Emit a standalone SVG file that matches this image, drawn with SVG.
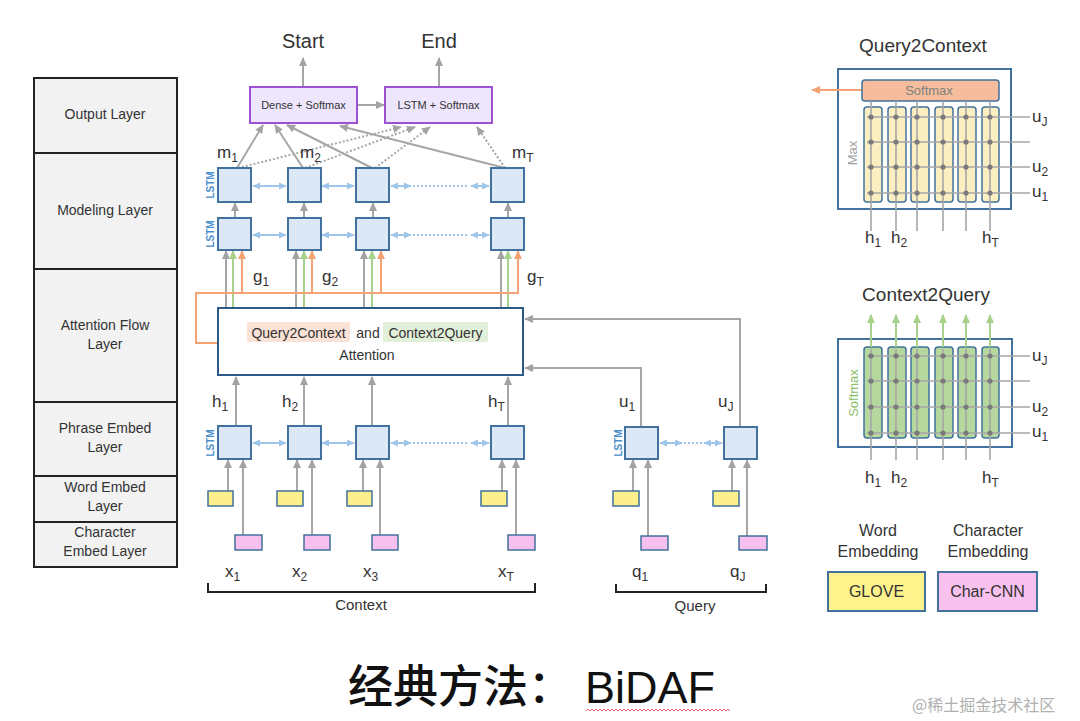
<svg xmlns="http://www.w3.org/2000/svg" width="1080" height="721" viewBox="0 0 1080 721">
<defs>
<marker id="ag" viewBox="0 0 10 10" refX="9" refY="5" markerWidth="9" markerHeight="9" markerUnits="userSpaceOnUse" orient="auto-start-reverse"><path d="M0,0.5 L10,5 L0,9.5z" fill="#a3a3a3"/></marker>
<marker id="ab" viewBox="0 0 10 10" refX="9" refY="5" markerWidth="8" markerHeight="8" markerUnits="userSpaceOnUse" orient="auto-start-reverse"><path d="M0,0.5 L10,5 L0,9.5z" fill="#9fc5e8"/></marker>
<marker id="ao" viewBox="0 0 10 10" refX="9" refY="5" markerWidth="9" markerHeight="9" markerUnits="userSpaceOnUse" orient="auto-start-reverse"><path d="M0,0.5 L10,5 L0,9.5z" fill="#f4a474"/></marker>
<marker id="agr" viewBox="0 0 10 10" refX="9" refY="5" markerWidth="9" markerHeight="9" markerUnits="userSpaceOnUse" orient="auto-start-reverse"><path d="M0,0.5 L10,5 L0,9.5z" fill="#a9d18e"/></marker>
</defs>
<style>
.t{font-family:"Liberation Sans",Arial,sans-serif;fill:#333}
.lb{font-family:"Liberation Sans",Arial,sans-serif;fill:#333;font-size:17px}
.sub{font-size:12px}
.lay{fill:#f2f2f2;stroke:#222;stroke-width:2}
.lstm{fill:#dce8f5;stroke:#41719c;stroke-width:2}
.yl{fill:#fdf08c;stroke:#41719c;stroke-width:1.5}
.pk{fill:#f7c0ee;stroke:#41719c;stroke-width:1.5}
.out{fill:#ede6fd;stroke:#9b51d0;stroke-width:2}
.g{stroke:#a6a6a6;stroke-width:2;fill:none}
.ga{stroke:#a6a6a6;stroke-width:2;fill:none;marker-end:url(#ag)}
.gd{stroke:#a6a6a6;stroke-width:2;fill:none;stroke-dasharray:2 2;marker-end:url(#ag)}
.ba{stroke:#9fc5e8;stroke-width:2;fill:none;marker-start:url(#ab);marker-end:url(#ab)}
.bd{stroke:#9fc5e8;stroke-width:2;fill:none;stroke-dasharray:2 2}
.oa{stroke:#f4a474;stroke-width:2;fill:none;marker-end:url(#ao)}
.o{stroke:#f4a474;stroke-width:2;fill:none}
.gr{stroke:#a9d18e;stroke-width:2;fill:none;marker-end:url(#agr)}
.vl{font-family:"Liberation Sans",Arial,sans-serif;font-size:10px;font-weight:bold;fill:#4a8fcc}
.pan{fill:#fff;stroke:#41719c;stroke-width:2}
.pl{stroke:#a6a6a6;stroke-width:1.6;fill:none}
.dot{fill:#7a7a7a}
</style>
<rect width="1080" height="721" fill="#fff"/>

<g id="layers">
<rect class="lay" x="34" y="78" width="143" height="75"/>
<rect class="lay" x="34" y="153" width="143" height="116"/>
<rect class="lay" x="34" y="269" width="143" height="133"/>
<rect class="lay" x="34" y="402" width="143" height="74"/>
<rect class="lay" x="34" y="476" width="143" height="46"/>
<rect class="lay" x="34" y="522" width="143" height="45"/>
<g class="t" font-size="14" text-anchor="middle">
<text x="105" y="119">Output  Layer</text>
<text x="105" y="215">Modeling  Layer</text>
<text x="105" y="330">Attention  Flow</text>
<text x="105" y="349">Layer</text>
<text x="105" y="433">Phrase Embed</text>
<text x="105" y="452">Layer</text>
<text x="105" y="492">Word Embed</text>
<text x="105" y="511">Layer</text>
<text x="105" y="537">Character</text>
<text x="105" y="556">Embed Layer</text>
</g>
</g>

<g id="connectors">
<line class="ga" x1="303" y1="87" x2="303" y2="58"/>
<line class="ga" x1="439" y1="87" x2="439" y2="58"/>
<line class="ga" x1="357" y1="105" x2="384" y2="105"/>
<line class="ga" x1="237" y1="168" x2="263" y2="125"/>
<line class="ga" x1="303" y1="168" x2="275" y2="125"/>
<line class="ga" x1="372" y1="168" x2="287" y2="125"/>
<line class="ga" x1="505" y1="168" x2="340" y2="126"/>
<line class="gd" x1="238" y1="168" x2="401" y2="127"/>
<line class="gd" x1="305" y1="168" x2="415" y2="127"/>
<line class="gd" x1="375" y1="168" x2="430" y2="127"/>
<line class="gd" x1="505" y1="168" x2="477" y2="127"/>
<line class="ga" x1="235" y1="218" x2="235" y2="203"/>
<line class="ga" x1="304" y1="218" x2="304" y2="203"/>
<line class="ga" x1="373" y1="218" x2="373" y2="203"/>
<line class="ga" x1="508" y1="218" x2="508" y2="203"/>
<line class="ba" x1="253" y1="186" x2="286" y2="186"/>
<line class="ba" x1="322" y1="186" x2="354" y2="186"/>
<line class="ba" x1="391" y1="186" x2="411" y2="186"/>
<line class="bd" x1="413" y1="186" x2="469" y2="186"/>
<line class="ba" x1="471" y1="186" x2="489" y2="186"/>
<line class="ba" x1="253" y1="235" x2="286" y2="235"/>
<line class="ba" x1="322" y1="235" x2="354" y2="235"/>
<line class="ba" x1="391" y1="235" x2="411" y2="235"/>
<line class="bd" x1="413" y1="235" x2="469" y2="235"/>
<line class="ba" x1="471" y1="235" x2="489" y2="235"/>
<line class="ba" x1="253" y1="443" x2="286" y2="443"/>
<line class="ba" x1="322" y1="443" x2="354" y2="443"/>
<line class="ba" x1="391" y1="443" x2="411" y2="443"/>
<line class="bd" x1="413" y1="443" x2="469" y2="443"/>
<line class="ba" x1="471" y1="443" x2="489" y2="443"/>
<line class="ba" x1="660" y1="443" x2="682" y2="443"/>
<line class="bd" x1="684" y1="443" x2="702" y2="443"/>
<line class="ba" x1="704" y1="443" x2="722" y2="443"/>
<line class="ga" x1="226" y1="308" x2="226" y2="251"/>
<line class="ga" x1="296" y1="308" x2="296" y2="251"/>
<line class="ga" x1="364" y1="308" x2="364" y2="251"/>
<line class="ga" x1="501" y1="308" x2="501" y2="251"/>
<line class="gr" x1="233" y1="308" x2="233" y2="251"/>
<line class="gr" x1="304" y1="308" x2="304" y2="251"/>
<line class="gr" x1="372" y1="308" x2="372" y2="251"/>
<line class="gr" x1="508" y1="308" x2="508" y2="251"/>
<polyline class="o" points="218,343 196,343 196,293 518,293"/>
<line class="oa" x1="242" y1="293" x2="242" y2="251"/>
<line class="oa" x1="312" y1="293" x2="312" y2="251"/>
<line class="oa" x1="381" y1="293" x2="381" y2="251"/>
<line class="oa" x1="518" y1="294" x2="518" y2="251"/>
<line class="ga" x1="236" y1="426" x2="236" y2="377"/>
<line class="ga" x1="304" y1="426" x2="304" y2="377"/>
<line class="ga" x1="372" y1="426" x2="372" y2="377"/>
<line class="ga" x1="508" y1="426" x2="508" y2="377"/>
<polyline class="ga" points="641,427 641,368 525,368"/>
<polyline class="ga" points="740,427 740,319 525,319"/>
<line class="ga" x1="228" y1="491" x2="228" y2="460"/>
<line class="ga" x1="243" y1="535" x2="243" y2="460"/>
<line class="ga" x1="297" y1="491" x2="297" y2="460"/>
<line class="ga" x1="312" y1="535" x2="312" y2="460"/>
<line class="ga" x1="363" y1="491" x2="363" y2="460"/>
<line class="ga" x1="380" y1="535" x2="380" y2="460"/>
<line class="ga" x1="502" y1="491" x2="502" y2="460"/>
<line class="ga" x1="516" y1="535" x2="516" y2="460"/>
<line class="ga" x1="633" y1="491" x2="633" y2="460"/>
<line class="ga" x1="648" y1="536" x2="648" y2="460"/>
<line class="ga" x1="732" y1="491" x2="732" y2="460"/>
<line class="ga" x1="747" y1="536" x2="747" y2="460"/>
</g>

<g id="output-layer">
<rect class="out" x="250" y="87" width="107" height="36"/>
<text class="t" x="303.5" y="109" font-size="11" text-anchor="middle">Dense  + Softmax</text>
<rect class="out" x="385" y="87" width="107" height="36"/>
<text class="t" x="438.5" y="109" font-size="11" text-anchor="middle">LSTM + Softmax</text>
<text class="t" x="303" y="48" font-size="20" text-anchor="middle">Start</text>
<text class="t" x="439" y="48" font-size="20" text-anchor="middle">End</text>
</g>

<g id="modeling-layer">
<rect class="lstm" x="218" y="168" width="33" height="34"/>
<rect class="lstm" x="288" y="168" width="33" height="34"/>
<rect class="lstm" x="356" y="168" width="33" height="34"/>
<rect class="lstm" x="491" y="168" width="33" height="34"/>
<rect class="lstm" x="218" y="218" width="33" height="32"/>
<rect class="lstm" x="288" y="218" width="33" height="32"/>
<rect class="lstm" x="356" y="218" width="33" height="32"/>
<rect class="lstm" x="491" y="218" width="33" height="32"/>
<text class="vl" transform="translate(214,185) rotate(-90)" text-anchor="middle">LSTM</text>
<text class="vl" transform="translate(214,234) rotate(-90)" text-anchor="middle">LSTM</text>
<text class="lb" x="217" y="158">m<tspan class="sub" dy="4">1</tspan></text>
<text class="lb" x="300" y="158">m<tspan class="sub" dy="4">2</tspan></text>
<text class="lb" x="512" y="158">m<tspan class="sub" dy="4">T</tspan></text>
<text class="lb" x="253" y="282">g<tspan class="sub" dy="4">1</tspan></text>
<text class="lb" x="322" y="282">g<tspan class="sub" dy="4">2</tspan></text>
<text class="lb" x="527" y="282">g<tspan class="sub" dy="4">T</tspan></text>
</g>

<g id="attention-layer">
<rect x="218" y="308" width="305" height="67" fill="#fff" stroke="#2b5a86" stroke-width="2"/>
<rect x="247" y="322" width="103" height="20" fill="#fbe2d6"/>
<rect x="383" y="322" width="105" height="20" fill="#e2efd9"/>
<text class="t" x="298.5" y="338" font-size="14" text-anchor="middle">Query2Context</text>
<text class="t" x="368" y="338" font-size="14" text-anchor="middle">and</text>
<text class="t" x="435.5" y="338" font-size="14" text-anchor="middle">Context2Query</text>
<text class="t" x="367" y="360" font-size="14" text-anchor="middle">Attention</text>
</g>

<g id="phrase-layer">
<rect class="lstm" x="218" y="426" width="33" height="33"/>
<rect class="lstm" x="288" y="426" width="33" height="33"/>
<rect class="lstm" x="356" y="426" width="33" height="33"/>
<rect class="lstm" x="491" y="426" width="33" height="33"/>
<rect class="lstm" x="625" y="427" width="33" height="32"/>
<rect class="lstm" x="724" y="427" width="33" height="32"/>
<text class="vl" transform="translate(214,443) rotate(-90)" text-anchor="middle">LSTM</text>
<text class="vl" transform="translate(622,443) rotate(-90)" text-anchor="middle">LSTM</text>
<text class="lb" x="212" y="407">h<tspan class="sub" dy="4">1</tspan></text>
<text class="lb" x="282" y="407">h<tspan class="sub" dy="4">2</tspan></text>
<text class="lb" x="488" y="407">h<tspan class="sub" dy="4">T</tspan></text>
<text class="lb" x="619" y="407">u<tspan class="sub" dy="4">1</tspan></text>
<text class="lb" x="718" y="407">u<tspan class="sub" dy="4">J</tspan></text>
</g>

<g id="embed-layer">
<rect class="yl" x="208" y="491" width="25" height="15"/>
<rect class="yl" x="277" y="491" width="26" height="15"/>
<rect class="yl" x="347" y="491" width="25" height="15"/>
<rect class="yl" x="481" y="491" width="26" height="15"/>
<rect class="yl" x="613" y="491" width="26" height="15"/>
<rect class="yl" x="713" y="491" width="26" height="15"/>
<rect class="pk" x="235" y="535" width="27" height="15"/>
<rect class="pk" x="304" y="535" width="26" height="15"/>
<rect class="pk" x="372" y="535" width="26" height="15"/>
<rect class="pk" x="508" y="535" width="27" height="15"/>
<rect class="pk" x="641" y="536" width="27" height="14"/>
<rect class="pk" x="739" y="536" width="28" height="14"/>
</g>

<g id="inputs">
<text class="lb" x="225" y="577">x<tspan class="sub" dy="4">1</tspan></text>
<text class="lb" x="292" y="577">x<tspan class="sub" dy="4">2</tspan></text>
<text class="lb" x="363" y="577">x<tspan class="sub" dy="4">3</tspan></text>
<text class="lb" x="498" y="577">x<tspan class="sub" dy="4">T</tspan></text>
<text class="lb" x="632" y="577">q<tspan class="sub" dy="4">1</tspan></text>
<text class="lb" x="730" y="577">q<tspan class="sub" dy="4">J</tspan></text>
<polyline points="208,583 208,592 535,592 535,583" fill="none" stroke="#222" stroke-width="2"/>
<polyline points="616,584 616,592 766,592 766,584" fill="none" stroke="#222" stroke-width="2"/>
<text class="t" x="361" y="610" font-size="15" text-anchor="middle">Context</text>
<text class="t" x="695" y="611" font-size="15" text-anchor="middle">Query</text>
</g>

<g id="query2context">
<text class="t" x="923" y="52" font-size="19" text-anchor="middle">Query2Context</text>
<rect class="pan" x="838" y="69" width="173" height="140"/>
<line class="oa" x1="862" y1="90" x2="812" y2="90"/>
<rect x="862" y="80" width="137" height="21" rx="3" fill="#f6bd9c" stroke="#41719c" stroke-width="1.5"/>
<text x="929" y="95" font-family="Liberation Sans, Arial, sans-serif" font-size="13" fill="#808080" text-anchor="middle">Softmax</text>
<g fill="#fbefc2" stroke="#41719c" stroke-width="1.5">
<rect x="864" y="107" width="18" height="95" rx="3"/>
<rect x="888" y="107" width="18" height="95" rx="3"/>
<rect x="911" y="107" width="18" height="95" rx="3"/>
<rect x="935" y="107" width="18" height="95" rx="3"/>
<rect x="958" y="107" width="18" height="95" rx="3"/>
<rect x="982" y="107" width="17" height="95" rx="3"/>
</g>
<g class="pl">
<line x1="871" y1="101" x2="871" y2="231"/>
<line x1="896" y1="101" x2="896" y2="231"/>
<line x1="917" y1="101" x2="917" y2="231"/>
<line x1="943" y1="101" x2="943" y2="231"/>
<line x1="966" y1="101" x2="966" y2="231"/>
<line x1="990" y1="101" x2="990" y2="231"/>
<line x1="867" y1="117" x2="1030" y2="117"/>
<line x1="867" y1="142" x2="1030" y2="142"/>
<line x1="867" y1="167" x2="1030" y2="167"/>
<line x1="867" y1="193" x2="1030" y2="193"/>
</g>
<g class="dot">
<circle cx="871" cy="117" r="2.6"/><circle cx="896" cy="117" r="2.6"/><circle cx="917" cy="117" r="2.6"/><circle cx="943" cy="117" r="2.6"/><circle cx="966" cy="117" r="2.6"/><circle cx="990" cy="117" r="2.6"/>
<circle cx="871" cy="142" r="2.6"/><circle cx="896" cy="142" r="2.6"/><circle cx="917" cy="142" r="2.6"/><circle cx="943" cy="142" r="2.6"/><circle cx="966" cy="142" r="2.6"/><circle cx="990" cy="142" r="2.6"/>
<circle cx="871" cy="167" r="2.6"/><circle cx="896" cy="167" r="2.6"/><circle cx="917" cy="167" r="2.6"/><circle cx="943" cy="167" r="2.6"/><circle cx="966" cy="167" r="2.6"/><circle cx="990" cy="167" r="2.6"/>
<circle cx="871" cy="193" r="2.6"/><circle cx="896" cy="193" r="2.6"/><circle cx="917" cy="193" r="2.6"/><circle cx="943" cy="193" r="2.6"/><circle cx="966" cy="193" r="2.6"/><circle cx="990" cy="193" r="2.6"/>
</g>
<text transform="translate(857,153) rotate(-90)" font-family="Liberation Sans, Arial, sans-serif" font-size="13" fill="#a0a0a0" text-anchor="middle">Max</text>
<text class="lb" x="1032" y="122">u<tspan class="sub" dy="4">J</tspan></text>
<text class="lb" x="1032" y="172">u<tspan class="sub" dy="4">2</tspan></text>
<text class="lb" x="1032" y="197">u<tspan class="sub" dy="4">1</tspan></text>
<text class="lb" x="865" y="243">h<tspan class="sub" dy="4">1</tspan></text>
<text class="lb" x="891" y="243">h<tspan class="sub" dy="4">2</tspan></text>
<text class="lb" x="982" y="243">h<tspan class="sub" dy="4">T</tspan></text>
</g>

<g id="context2query">
<text class="t" x="926" y="301" font-size="19" text-anchor="middle">Context2Query</text>
<rect class="pan" x="838" y="339" width="174" height="108"/>
<g fill="#b6d89e" stroke="#41719c" stroke-width="1.5">
<rect x="864" y="347" width="18" height="91" rx="3"/>
<rect x="888" y="347" width="18" height="91" rx="3"/>
<rect x="911" y="347" width="18" height="91" rx="3"/>
<rect x="935" y="347" width="18" height="91" rx="3"/>
<rect x="958" y="347" width="18" height="91" rx="3"/>
<rect x="982" y="347" width="17" height="91" rx="3"/>
</g>
<g class="pl">
<line x1="871" y1="349" x2="871" y2="460"/>
<line x1="896" y1="349" x2="896" y2="460"/>
<line x1="917" y1="349" x2="917" y2="460"/>
<line x1="943" y1="349" x2="943" y2="460"/>
<line x1="966" y1="349" x2="966" y2="460"/>
<line x1="990" y1="349" x2="990" y2="460"/>
<line x1="867" y1="356" x2="1030" y2="356"/>
<line x1="867" y1="381" x2="1030" y2="381"/>
<line x1="867" y1="407" x2="1030" y2="407"/>
<line x1="867" y1="433" x2="1030" y2="433"/>
</g>
<line class="gr" x1="871" y1="347" x2="871" y2="315"/>
<line class="gr" x1="896" y1="347" x2="896" y2="315"/>
<line class="gr" x1="917" y1="347" x2="917" y2="315"/>
<line class="gr" x1="943" y1="347" x2="943" y2="315"/>
<line class="gr" x1="966" y1="347" x2="966" y2="315"/>
<line class="gr" x1="990" y1="347" x2="990" y2="315"/>
<g class="dot">
<circle cx="871" cy="356" r="2.6"/><circle cx="896" cy="356" r="2.6"/><circle cx="917" cy="356" r="2.6"/><circle cx="943" cy="356" r="2.6"/><circle cx="966" cy="356" r="2.6"/><circle cx="990" cy="356" r="2.6"/>
<circle cx="871" cy="381" r="2.6"/><circle cx="896" cy="381" r="2.6"/><circle cx="917" cy="381" r="2.6"/><circle cx="943" cy="381" r="2.6"/><circle cx="966" cy="381" r="2.6"/><circle cx="990" cy="381" r="2.6"/>
<circle cx="871" cy="407" r="2.6"/><circle cx="896" cy="407" r="2.6"/><circle cx="917" cy="407" r="2.6"/><circle cx="943" cy="407" r="2.6"/><circle cx="966" cy="407" r="2.6"/><circle cx="990" cy="407" r="2.6"/>
<circle cx="871" cy="433" r="2.6"/><circle cx="896" cy="433" r="2.6"/><circle cx="917" cy="433" r="2.6"/><circle cx="943" cy="433" r="2.6"/><circle cx="966" cy="433" r="2.6"/><circle cx="990" cy="433" r="2.6"/>
</g>
<text transform="translate(858,393) rotate(-90)" font-family="Liberation Sans, Arial, sans-serif" font-size="13" fill="#8dbd6c" text-anchor="middle">Softmax</text>
<text class="lb" x="1032" y="361">u<tspan class="sub" dy="4">J</tspan></text>
<text class="lb" x="1032" y="412">u<tspan class="sub" dy="4">2</tspan></text>
<text class="lb" x="1032" y="437">u<tspan class="sub" dy="4">1</tspan></text>
<text class="lb" x="865" y="483">h<tspan class="sub" dy="4">1</tspan></text>
<text class="lb" x="891" y="483">h<tspan class="sub" dy="4">2</tspan></text>
<text class="lb" x="982" y="483">h<tspan class="sub" dy="4">T</tspan></text>
</g>

<g id="legend">
<g class="t" font-size="16" text-anchor="middle">
<text x="878" y="536">Word</text>
<text x="878" y="557">Embedding</text>
<text x="988" y="536">Character</text>
<text x="988" y="557">Embedding</text>
</g>
<rect x="828" y="572" width="97" height="39" fill="#fdf28c" stroke="#41719c" stroke-width="2"/>
<rect x="938" y="572" width="99" height="39" fill="#f8c1ee" stroke="#41719c" stroke-width="2"/>
<text class="t" x="876.5" y="597" font-size="16" text-anchor="middle">GLOVE</text>
<text class="t" x="987.5" y="597" font-size="16" text-anchor="middle">Char-CNN</text>
</g>

<g id="title">
<text x="348" y="703" font-family="Noto Sans CJK SC, sans-serif" font-size="45" font-weight="500" fill="#111">经典方法：</text>
<text x="585" y="703" font-family="Liberation Sans, Arial, sans-serif" font-size="45" fill="#111">BiDAF</text>
<path d="M586,711 l2,-2 l2,2 l2,-2 l2,2 l2,-2 l2,2 l2,-2 l2,2 l2,-2 l2,2 l2,-2 l2,2 l2,-2 l2,2 l2,-2 l2,2 l2,-2 l2,2 l2,-2 l2,2 l2,-2 l2,2 l2,-2 l2,2 l2,-2 l2,2 l2,-2 l2,2 l2,-2 l2,2 l2,-2 l2,2 l2,-2 l2,2 l2,-2 l2,2 l2,-2 l2,2 l2,-2 l2,2 l2,-2 l2,2 l2,-2 l2,2 l2,-2 l2,2 l2,-2 l2,2 l2,-2 l2,2 l2,-2 l2,2 l2,-2 l2,2 l2,-2 l2,2 l2,-2 l2,2 l2,-2 l2,2 l2,-2 l2,2 l2,-2 l2,2 l2,-2 l2,2 l2,-2 l2,2 l2,-2 l2,2 l2,-2 l2,2" fill="none" stroke="#e06060" stroke-width="1"/>
<text x="912" y="711" font-family="Noto Sans CJK SC, sans-serif" font-size="16" fill="#b0b0b0">@稀土掘金技术社区</text>
</g>
</svg>
